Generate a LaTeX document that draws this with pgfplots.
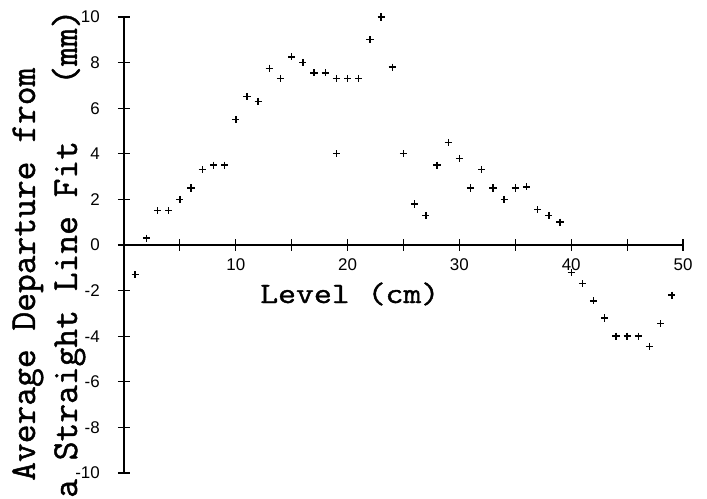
\documentclass[border=0pt]{standalone}
\usepackage{fontspec}
\usepackage{graphicx}
\usepackage{pgfplots}
\pgfplotsset{compat=1.18}
\newfontfamily\labelfont[FakeBold=1.2]{Latin Modern Mono}
\newfontfamily\tickfont{Liberation Sans}

\begin{document}
\begin{tikzpicture}
% page frame, measured from the lower left corner of the plot area
\path[use as bounding box] (-124bp,-26bp) rectangle (583bp,473bp);
\begin{axis}[
  at={(0bp,0bp)}, anchor=south west,
  width=559bp, height=456bp, scale only axis,
  xmin=0, xmax=50, ymin=-10, ymax=10,
  axis lines=middle,
  axis line style={-, line width=1.3bp, black},
  enlargelimits=false, clip=false,
  xtick={5,10,...,50},
  xticklabels={,10,,20,,30,,40,,50},
  ytick={-10,-8,...,10},
  hide obscured x ticks=false, hide obscured y ticks=false,
  tick align=center, major tick length=12bp,
  tick style={line width=1.1bp, black},
  /pgf/number format/assume math mode=true,
  ticklabel style={font=\tickfont\fontsize{17}{17}\selectfont, inner sep=0pt},
  yticklabel style={anchor=east, xshift=-18bp},
  xticklabel style={anchor=north, yshift=-7bp},
  xlabel={\scalebox{1}[0.85]{Level (cm)}},
  xlabel style={at={(rel axis cs:0.2433,0.3728)}, anchor=base west,
    inner sep=0pt, font=\labelfont\fontsize{34.9}{34.9}\selectfont},
]
\addplot[only marks, mark=+, mark size=3.6bp, mark options={line width=1.4bp, black}]
table {
x y
1 -1.3
2 0.3
3 1.5
4 1.5
5 2.0
6 2.5
7 3.3
8 3.5
9 3.5
10 5.5
11 6.5
12 6.3
13 7.75
14 7.3
15 8.25
16 8.0
17 7.55
18 7.55
19 7.3
19 4.0
20 7.3
21 7.3
22 9.0
23 10.0
24 7.8
25 4.0
26 1.8
27 1.3
28 3.5
29 4.5
30 3.8
31 2.5
32 3.3
33 2.5
34 2.0
35 2.5
36 2.55
37 1.55
38 1.3
39 1.0
40 -1.2
41 -1.7
42 -2.45
43 -3.2
44 -4.0
45 -4.0
46 -4.0
47 -4.45
48 -3.45
49 -2.2
};
\end{axis}
% two-line vertical caption of the y axis
\node[rotate=90, anchor=base west, inner sep=0pt,
  font=\labelfont\fontsize{36.6}{36.6}\selectfont] at (-89bp,-8bp)
  {Average Departure from};
\node[rotate=90, anchor=base west, inner sep=0pt,
  font=\labelfont\fontsize{36.6}{36.6}\selectfont] at (-47bp,-25bp)
  {a Straight Line Fit\ \ \ (mm)};
\end{tikzpicture}
\end{document}
